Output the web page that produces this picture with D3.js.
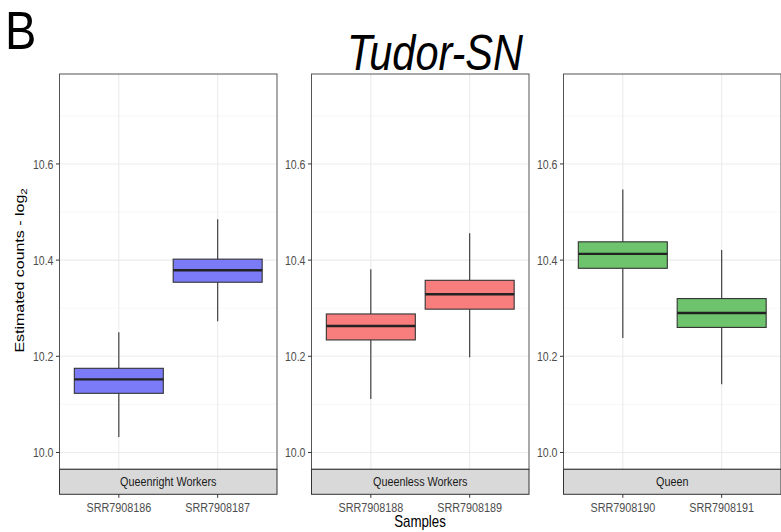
<!DOCTYPE html>
<html><head><meta charset="utf-8">
<script src="https://cdn.jsdelivr.net/npm/d3@7"></script>
<style>body{margin:0;background:#fff}svg{display:block}text{font-family:"Liberation Sans",Arial,sans-serif}</style>
</head><body>
<svg id="c" width="781" height="532"></svg>
<script>
const groups = ["Queenright Workers","Queenless Workers","Queen"];
const groupColors = ["#7b7bf7","#f87e7e","#6dc46d"];
const samples = ["SRR7908186","SRR7908187","SRR7908188","SRR7908189","SRR7908190","SRR7908191"];
const sampleGroup = [0,0,1,1,2,2];
const whiskerLow  = [10.032,10.273,10.111,10.198,10.238,10.142];
const q1          = [10.123,10.354,10.234,10.298,10.383,10.260];
const medians     = [10.152,10.379,10.263,10.329,10.413,10.290];
const q3          = [10.175,10.402,10.288,10.358,10.438,10.320];
const whiskerHigh = [10.250,10.485,10.381,10.456,10.547,10.421];
const yTicks = [10.0,10.2,10.4,10.6];
const yMinor = [10.1,10.3,10.5,10.7];

const svg = d3.select("#c");
const S = 1.2; // vertical text stretch of the original
const panelTop = 74, panelBottom = 469.3, stripH = 25;
const panelW = 217.5;
const panelLefts = [59.5, 311.5, 563.5];
const y = d3.scaleLinear().domain([9.965, 10.787]).range([panelBottom, panelTop]);

function stext(g, x, yy, str, opts){
  const t = g.append("text")
    .attr("transform", `translate(${x},${yy}) scale(1,${opts.s||S})`)
    .attr("text-anchor", opts.anchor||"middle")
    .attr("font-size", opts.size)
    .attr("fill", opts.fill||"#000")
    .text(str);
  if(opts.italic) t.attr("font-style","italic");
  return t;
}

groups.forEach((gname, gi) => {
  const L = panelLefts[gi];
  const g = svg.append("g");
  const idx = samples.map((s,i)=>i).filter(i=>sampleGroup[i]===gi);
  const xs = d3.scalePoint().domain(idx.map(i=>samples[i])).range([L, L+panelW]).padding(0.6);
  const step = xs.step();
  // grid
  g.selectAll(".mn").data(yMinor).join("line")
    .attr("x1",L).attr("x2",L+panelW).attr("y1",d=>y(d)).attr("y2",d=>y(d))
    .attr("stroke","#f2f2f2").attr("stroke-width",0.6);
  g.selectAll(".mj").data(yTicks).join("line")
    .attr("x1",L).attr("x2",L+panelW).attr("y1",d=>y(d)).attr("y2",d=>y(d))
    .attr("stroke","#ebebeb").attr("stroke-width",1.1);
  g.selectAll(".vx").data(idx).join("line")
    .attr("x1",i=>xs(samples[i])).attr("x2",i=>xs(samples[i])).attr("y1",panelTop).attr("y2",panelBottom)
    .attr("stroke","#ebebeb").attr("stroke-width",1.1);
  // boxes
  const bw = step*0.9;
  idx.forEach(i => {
    const cx = xs(samples[i]);
    g.append("line").attr("x1",cx).attr("x2",cx).attr("y1",y(whiskerHigh[i])).attr("y2",y(q3[i]))
      .attr("stroke","#333").attr("stroke-width",1.1);
    g.append("line").attr("x1",cx).attr("x2",cx).attr("y1",y(q1[i])).attr("y2",y(whiskerLow[i]))
      .attr("stroke","#333").attr("stroke-width",1.1);
    g.append("rect").attr("x",cx-bw/2).attr("width",bw).attr("y",y(q3[i])).attr("height",y(q1[i])-y(q3[i]))
      .attr("fill",groupColors[gi]).attr("stroke","#333").attr("stroke-width",1.1);
    g.append("line").attr("x1",cx-bw/2).attr("x2",cx+bw/2).attr("y1",y(medians[i])).attr("y2",y(medians[i]))
      .attr("stroke","#222").attr("stroke-width",2.4);
  });
  // panel border
  g.append("rect").attr("x",L).attr("y",panelTop).attr("width",panelW).attr("height",panelBottom-panelTop)
    .attr("fill","none").attr("stroke","#555").attr("stroke-width",1);
  // strip
  g.append("rect").attr("x",L).attr("y",panelBottom).attr("width",panelW).attr("height",stripH)
    .attr("fill","#d9d9d9").attr("stroke","#333").attr("stroke-width",1);
  stext(g, L+panelW/2, panelBottom+stripH/2+4.6, gname, {size:10.8, fill:"#1a1a1a"});
  // y axis ticks
  yTicks.forEach(v => {
    g.append("line").attr("x1",L-3.5).attr("x2",L).attr("y1",y(v)).attr("y2",y(v)).attr("stroke","#333").attr("stroke-width",1);
    stext(g, L-6, y(v)+4.6, d3.format(".1f")(v), {size:10.6, fill:"#4d4d4d", anchor:"end"});
  });
  // x axis ticks
  idx.forEach(i => {
    const cx = xs(samples[i]);
    g.append("line").attr("x1",cx).attr("x2",cx).attr("y1",panelBottom+stripH).attr("y2",panelBottom+stripH+3.5).attr("stroke","#333").attr("stroke-width",1);
    stext(g, cx, 511.8, samples[i], {size:10.8, fill:"#4d4d4d"});
  });
});

// axis titles
stext(svg, 420, 526.5, "Samples", {size:13.3});
const yt = svg.append("text")
  .attr("transform", `translate(23.5,270.5) rotate(-90) scale(${S},1)`)
  .attr("text-anchor","middle").attr("font-size",13.3).attr("fill","#000");
yt.append("tspan").text("Estimated counts - log");
yt.append("tspan").attr("font-size",9.5).attr("dy",3).text("2");
// title and panel letter
stext(svg, 435, 70, "Tudor-SN", {size:41.5, italic:true, s:1.2});
stext(svg, 5, 49.3, "B", {size:47, anchor:"start", s:1.15});
</script>
</body></html>
